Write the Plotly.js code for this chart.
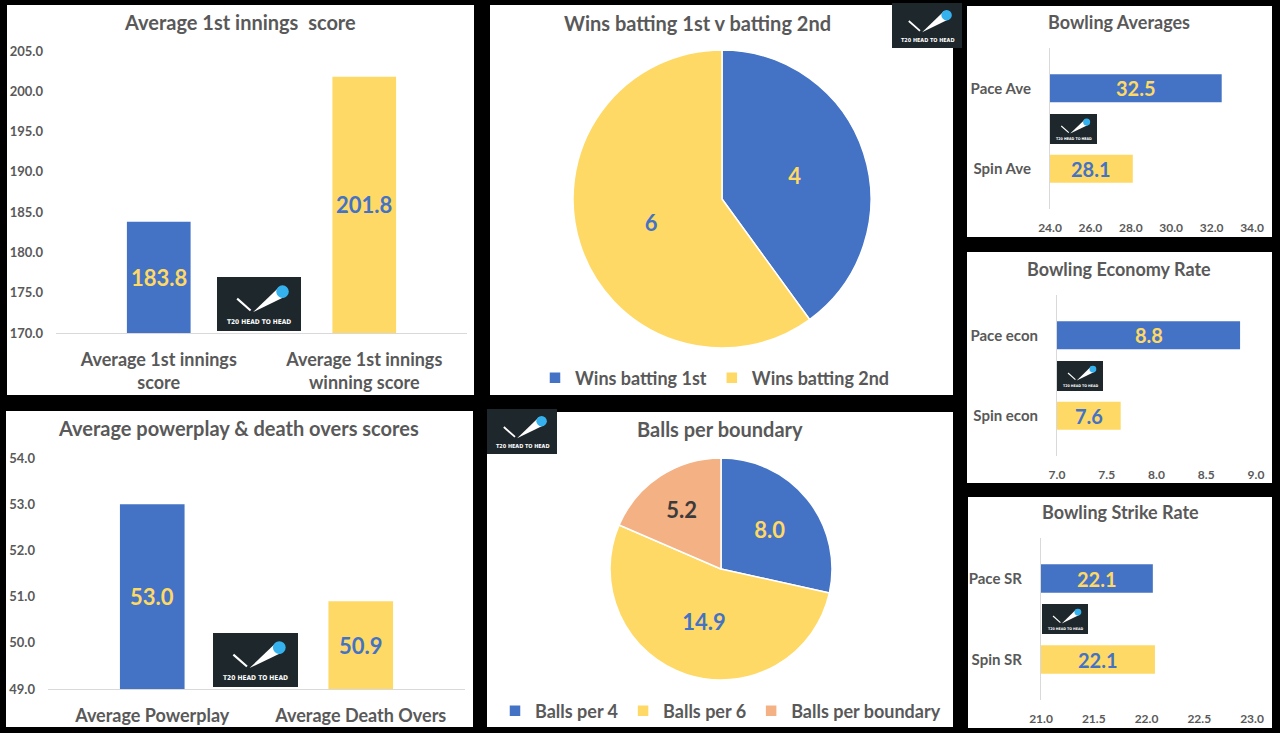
<!DOCTYPE html>
<html><head><meta charset="utf-8">
<script src="https://cdn.plot.ly/plotly-3.0.1.min.js"></script>
<style>html,body{margin:0;padding:0;background:#000;}#chart{width:1280px;height:733px;}</style>
</head><body><div id="chart"></div>
<script>
// ---------- data ----------
const inningsCategories = ['Average 1st innings score', 'Average 1st innings winning score'];
const inningsTickText = ['Average 1st innings<br>score', 'Average 1st innings<br>winning score'];
const inningsValues = [183.8, 201.8];

const phaseCategories = ['Average Powerplay', 'Average Death Overs'];
const phaseValues = [53.0, 50.9];

const winsLabels = ['Wins batting 1st', 'Wins batting 2nd'];
const winsValues = [4, 6];

const boundaryLabels = ['Balls per 4', 'Balls per 6', 'Balls per boundary'];
const boundaryValues = [8.0, 14.9, 5.2];

const avgCategories = ['Pace Ave', 'Spin Ave'];
const avgValues = [32.5, 28.1];

const econCategories = ['Pace econ', 'Spin econ'];
const econValues = [8.84, 7.64];

const srCategories = ['Pace SR', 'Spin SR'];
const srValues = [22.06, 22.08];

// ---------- styling helpers ----------
const W = 1280, H = 733;
const BLUE = '#4472C4', GOLD = '#FFD966', PEACH = '#F4B183', GRAY = '#595959', LINE = '#D9D9D9', DARK = '#3B3B3B';
const FONT = 'Lato, Carlito, Calibri, sans-serif';
const fx = p => p / W;
const fy = p => 1 - p / H;
const domX = (a, b) => [a / W, b / W];
const domY = (top, bottom) => [1 - bottom / H, 1 - top / H];

const ranges = {
  y: [170, 205], y2: [49, 54], x3: [24, 34], x4: [7, 9], x5: [21, 23]
};

const traces = [];
const annotations = [];
const shapes = [];

// vertical bar panels
function vbar(cats, vals, xa, ya, rangeKey, size) {
  traces.push({
    type: 'bar', x: cats, y: vals, xaxis: xa, yaxis: ya, width: 0.31,
    marker: {color: [BLUE, GOLD]}, showlegend: false, hoverinfo: 'skip', textposition: 'none'
  });
  const r = ranges[rangeKey];
  vals.forEach((v, i) => annotations.push({
    xref: xa, yref: ya, x: cats[i], y: (r[0] + v) / 2, text: v.toFixed(1), showarrow: false,
    font: {family: FONT, size: size, weight: 'bold', color: i === 0 ? GOLD : BLUE}
  }));
}
// horizontal bar panels
function hbar(cats, vals, xa, ya, rangeKey, size) {
  traces.push({
    type: 'bar', orientation: 'h', y: cats, x: vals, xaxis: xa, yaxis: ya, width: 0.35,
    marker: {color: [BLUE, GOLD]}, showlegend: false, hoverinfo: 'skip', textposition: 'none'
  });
  const r = ranges[rangeKey];
  vals.forEach((v, i) => annotations.push({
    xref: xa, yref: ya, y: cats[i], x: (r[0] + v) / 2, text: v.toFixed(1), showarrow: false,
    font: {family: FONT, size: size, weight: 'bold', color: i === 0 ? GOLD : BLUE}
  }));
}

vbar(inningsCategories, inningsValues, 'x', 'y', 'y', 22);
vbar(phaseCategories, phaseValues, 'x2', 'y2', 'y2', 22);
hbar(avgCategories, avgValues, 'x3', 'y3', 'x3', 20);
hbar(econCategories, econValues, 'x4', 'y4', 'x4', 20);
hbar(srCategories, srValues, 'x5', 'y5', 'x5', 20);

// pies
traces.push({
  type: 'pie', labels: winsLabels, values: winsValues, sort: false, direction: 'clockwise', rotation: 0,
  domain: {x: domX(573, 871), y: domY(50, 348)},
  marker: {colors: [BLUE, GOLD], line: {color: '#FFFFFF', width: 1.5}},
  textinfo: 'value', texttemplate: '%{value}', textposition: 'inside', insidetextorientation: 'horizontal',
  textfont: {family: FONT, size: 22, weight: 'bold', color: [GOLD, BLUE]},
  hoverinfo: 'skip', legend: 'legend'
});
traces.push({
  type: 'pie', labels: boundaryLabels, values: boundaryValues, sort: false, direction: 'clockwise', rotation: 0,
  domain: {x: domX(610, 832), y: domY(458, 680)},
  marker: {colors: [BLUE, GOLD, PEACH], line: {color: '#FFFFFF', width: 1.5}},
  textinfo: 'value', texttemplate: '%{value:.1f}', textposition: 'inside', insidetextorientation: 'horizontal',
  textfont: {family: FONT, size: 22, weight: 'bold', color: [GOLD, BLUE, DARK]},
  hoverinfo: 'skip', legend: 'legend2'
});

// panels (white cards)
const panels = [
  [7, 5, 474, 395], [490, 5, 953, 395], [967, 6, 1272, 237], [967, 252, 1272, 483],
  [968, 497, 1272, 728], [6, 411, 473, 727], [487, 412, 953, 727]
];
panels.forEach(p => shapes.push({
  type: 'rect', xref: 'paper', yref: 'paper', layer: 'below',
  x0: fx(p[0]), x1: fx(p[2]), y0: fy(p[3]), y1: fy(p[1]),
  fillcolor: '#FFFFFF', line: {width: 0}
}));

// titles
const titles = [
  ['Average 1st innings  score', 240, 22, 20],
  ['Wins batting 1st v batting 2nd', 697, 23, 20],
  ['Bowling Averages', 1119, 22, 18],
  ['Bowling Economy Rate', 1119, 269, 18],
  ['Bowling Strike Rate', 1120, 512, 18],
  ['Average powerplay &amp; death overs scores', 238, 428, 20],
  ['Balls per boundary', 720, 429, 20]
];
titles.forEach(t => annotations.push({
  xref: 'paper', yref: 'paper', x: fx(t[1]), y: fy(t[2]), xanchor: 'center', yanchor: 'middle',
  text: t[0], showarrow: false, font: {family: FONT, size: t[3], weight: 'bold', color: GRAY}
}));

// watermark logos
function logo(x0, y0, x1, y1) {
  const w = x1 - x0, h = y1 - y0;
  shapes.push({type: 'rect', xref: 'paper', yref: 'paper', layer: 'above',
    x0: fx(x0), x1: fx(x1), y0: fy(y1), y1: fy(y0), fillcolor: '#1E272B', line: {width: 0}});
  const cx = x0 + 0.78 * w, cy = y0 + 0.27 * h, r = 0.075 * w;
  const tx = x0 + 0.43 * w, ty = y0 + 0.65 * h;
  let dx = cx - tx, dy = cy - ty; const L = Math.hypot(dx, dy); dx /= L; dy /= L;
  const px1 = cx + dy * r * 0.9, py1 = cy - dx * r * 0.9, px2 = cx - dy * r * 0.9, py2 = cy + dx * r * 0.9;
  shapes.push({type: 'path', xref: 'paper', yref: 'paper', layer: 'above',
    path: `M${fx(tx)},${fy(ty)} L${fx(px1)},${fy(py1)} L${fx(px2)},${fy(py2)} Z`,
    fillcolor: '#FFFFFF', line: {width: 0}});
  shapes.push({type: 'circle', xref: 'paper', yref: 'paper', layer: 'above',
    x0: fx(cx - r), x1: fx(cx + r), y0: fy(cy + r), y1: fy(cy - r), fillcolor: '#35B2EE', line: {width: 0}});
  shapes.push({type: 'line', xref: 'paper', yref: 'paper', layer: 'above',
    x0: fx(x0 + 0.24 * w), y0: fy(y0 + 0.40 * h), x1: fx(x0 + 0.40 * w), y1: fy(y0 + 0.62 * h),
    line: {color: '#FFFFFF', width: Math.max(1, w / 40)}});
  annotations.push({xref: 'paper', yref: 'paper', x: fx(x0 + 0.5 * w), y: fy(y0 + 0.83 * h),
    xanchor: 'center', yanchor: 'middle', showarrow: false, text: 'T20 HEAD TO HEAD',
    font: {family: 'Liberation Sans Narrow, DejaVu Sans Condensed, sans-serif', size: Math.max(3, 0.078 * w), weight: 'bold', color: '#FFFFFF'}});
}
logo(217, 277, 301, 331);
logo(892, 3, 962, 48);
logo(1050, 114, 1097, 144);
logo(1057, 361, 1103, 391);
logo(1042, 604, 1088, 634);
logo(213, 633, 298, 687);
logo(487, 409, 557, 454);

// axes
const catX = (dom, anchor, tickvals, ticktext) => ({
  domain: dom, anchor: anchor, type: 'category', showline: true, linecolor: LINE, linewidth: 1,
  ticks: '', showgrid: false, zeroline: false, tickvals: tickvals, ticktext: ticktext,
  tickfont: {family: FONT, size: 18, weight: 'bold', color: GRAY}, ticklabelstandoff: 10, fixedrange: true
});
const valY = (dom, anchor, range, dtick) => ({
  domain: dom, anchor: anchor, range: range, dtick: dtick, tickformat: '.1f', showgrid: false,
  zeroline: false, showline: false, ticks: '', tickfont: {family: FONT, size: 13, weight: 'bold', color: GRAY},
  ticklabelstandoff: 12, fixedrange: true
});
const valX = (dom, anchor, range, dtick) => ({
  domain: dom, anchor: anchor, range: range, dtick: dtick, tickformat: '.1f', showgrid: false,
  zeroline: false, showline: false, ticks: '', tickfont: {family: FONT, size: 12, weight: 'bold', color: GRAY},
  ticklabelstandoff: 10, fixedrange: true
});
const catY = (dom, anchor) => ({
  domain: dom, anchor: anchor, type: 'category', autorange: 'reversed', showline: true, linecolor: LINE,
  linewidth: 1, ticks: '', showgrid: false, zeroline: false,
  tickfont: {family: FONT, size: 15, weight: 'bold', color: GRAY}, ticklabelstandoff: 15, fixedrange: true
});

const legendBase = {
  orientation: 'h', xanchor: 'left', yanchor: 'middle', bgcolor: 'rgba(0,0,0,0)',
  font: {family: FONT, size: 18, weight: 'bold', color: GRAY}, itemclick: false, itemdoubleclick: false
};

const layout = {
  width: W, height: H, margin: {l: 0, r: 0, t: 0, b: 0},
  paper_bgcolor: '#000000', plot_bgcolor: 'rgba(0,0,0,0)',
  font: {family: FONT, color: GRAY},
  showlegend: true,
  legend: Object.assign({}, legendBase, {x: fx(535), y: fy(378)}),
  legend2: Object.assign({}, legendBase, {x: fx(495), y: fy(711)}),
  xaxis: catX(domX(56, 467), 'y', inningsCategories, inningsTickText),
  yaxis: valY(domY(51, 333), 'x', ranges.y, 5),
  xaxis2: catX(domX(48, 465), 'y2', phaseCategories, phaseCategories),
  yaxis2: valY(domY(458, 689), 'x2', ranges.y2, 1),
  xaxis3: valX(domX(1050, 1252), 'y3', ranges.x3, 2),
  yaxis3: catY(domY(48, 209), 'x3'),
  xaxis4: valX(domX(1057, 1256), 'y4', ranges.x4, 0.5),
  yaxis4: catY(domY(295, 456), 'x4'),
  xaxis5: valX(domX(1041, 1252), 'y5', ranges.x5, 0.5),
  yaxis5: catY(domY(538, 700), 'x5'),
  shapes: shapes,
  annotations: annotations
};

Plotly.newPlot('chart', traces, layout, {staticPlot: true, displayModeBar: false});
</script>
</body></html>
